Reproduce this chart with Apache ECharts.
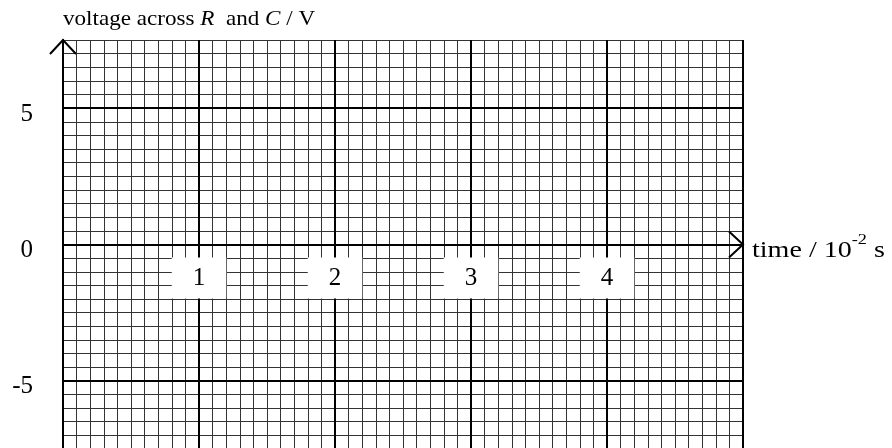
<!DOCTYPE html>
<html>
<head>
<meta charset="utf-8">
<script src="https://cdn.jsdelivr.net/npm/echarts@6/dist/echarts.min.js"></script>
<style>
  html, body { margin: 0; padding: 0; background: #fff; }
  #chart { width: 892px; height: 448px; }
</style>
</head>
<body>
<div id="chart"></div>
<script>
// Axis ranges and labelled ticks of the blank graph grid
const timeRange = [0, 5];            // time / 10^-2 s
const voltageRange = [-7.5, 7.5];    // voltage / V
const timeLabels = [1, 2, 3, 4];
const voltageLabels = [5, 0, -5];
const heavyVoltageLines = [5, -5];

const SERIF = "'Liberation Serif', 'Times New Roman', serif";

const chart = echarts.init(document.getElementById('chart'), null, { renderer: 'canvas' });

const option = {
  backgroundColor: '#fff',
  animation: false,
  grid: { left: 63, top: 40, width: 680, height: 409, containLabel: false, outerBoundsMode: 'none' },
  xAxis: {
    type: 'value',
    min: timeRange[0],
    max: timeRange[1],
    interval: 1,
    axisLine: { onZero: true, lineStyle: { color: '#000', width: 2 } },
    axisTick: { show: false },
    minorTick: { show: false, splitNumber: 10 },
    splitLine: { show: true, lineStyle: { color: '#000', width: 2 } },
    minorSplitLine: { show: true, lineStyle: { color: '#333', width: 1 } },
    axisLabel: { show: false },
    z: 3
  },
  yAxis: {
    type: 'value',
    min: voltageRange[0],
    max: voltageRange[1],
    interval: 0.5,
    axisLine: { show: true, onZero: false, lineStyle: { color: '#000', width: 2 } },
    axisTick: { show: false },
    splitLine: { show: true, lineStyle: { color: '#333', width: 1 } },
    axisLabel: {
      formatter: v => {
        const hit = voltageLabels.find(l => Math.abs(l - v) < 1e-6);
        return hit === undefined ? '' : String(hit);
      },
      fontFamily: SERIF,
      fontSize: 25,
      color: '#000',
      margin: 30,
      verticalAlign: 'top',
      lineHeight: 12
    }
  },
  series: [{
    // heavy 5 V grid lines
    type: 'line',
    data: [],
    silent: true,
    markLine: {
      silent: true,
      symbol: ['none', 'none'],
      label: { show: false },
      lineStyle: { color: '#000', width: 2, type: 'solid' },
      data: heavyVoltageLines.map(v => ({ yAxis: v }))
    }
  }, {
    // time tick numbers in white boxes just under the time axis
    type: 'scatter',
    silent: true,
    symbolSize: 0,
    z: 5,
    itemStyle: { opacity: 1 },
    data: timeLabels.map(t => [t, 0]),
    label: {
      show: true,
      opacity: 1,
      position: 'bottom',
      distance: 13,
      formatter: p => String(p.value[0]),
      fontFamily: SERIF,
      fontSize: 25,
      color: '#000',
      lineHeight: 22,
      backgroundColor: '#fff',
      padding: [10, 21, 9, 21]
    }
  }]
};

chart.setOption(option);

// Axis titles and open chevron arrow heads at the ends of both axes
const yTip = chart.convertToPixel({ gridIndex: 0 }, [timeRange[0], voltageRange[1]]);
const xTip = chart.convertToPixel({ gridIndex: 0 }, [timeRange[1], 0]);
const arm = 14, half = 13;
chart.setOption({
  graphic: [{
    type: 'text',
    x: yTip[0],
    y: 9,
    scaleX: 1.1,
    style: {
      text: '{n|voltage across }{i|R}{n|  and }{i|C}{n| / V}',
      textVerticalAlign: 'top',
      rich: {
        n: { fontFamily: SERIF, fontSize: 21, fill: '#000' },
        i: { fontFamily: SERIF, fontSize: 21, fontStyle: 'italic', fill: '#000' }
      }
    }
  }, {
    type: 'text',
    x: xTip[0] + 9,
    y: xTip[1] - 12,
    scaleX: 1.22,
    style: {
      text: '{t|time / 10}{s|-2}{t| s}',
      textVerticalAlign: 'top',
      rich: {
        t: { fontFamily: SERIF, fontSize: 23, fill: '#000', verticalAlign: 'bottom', lineHeight: 30 },
        s: { fontFamily: SERIF, fontSize: 15, fill: '#000', verticalAlign: 'top', lineHeight: 30 }
      }
    }
  }, {
    type: 'polyline',
    z: 100,
    shape: { points: [[yTip[0] - half, yTip[1] + arm], [yTip[0], yTip[1]], [yTip[0] + half, yTip[1] + arm]] },
    style: { stroke: '#000', lineWidth: 2, fill: null }
  }, {
    type: 'polyline',
    z: 100,
    shape: { points: [[xTip[0] - arm, xTip[1] - half], [xTip[0], xTip[1]], [xTip[0] - arm, xTip[1] + half]] },
    style: { stroke: '#000', lineWidth: 2, fill: null }
  }]
});
</script>
</body>
</html>
